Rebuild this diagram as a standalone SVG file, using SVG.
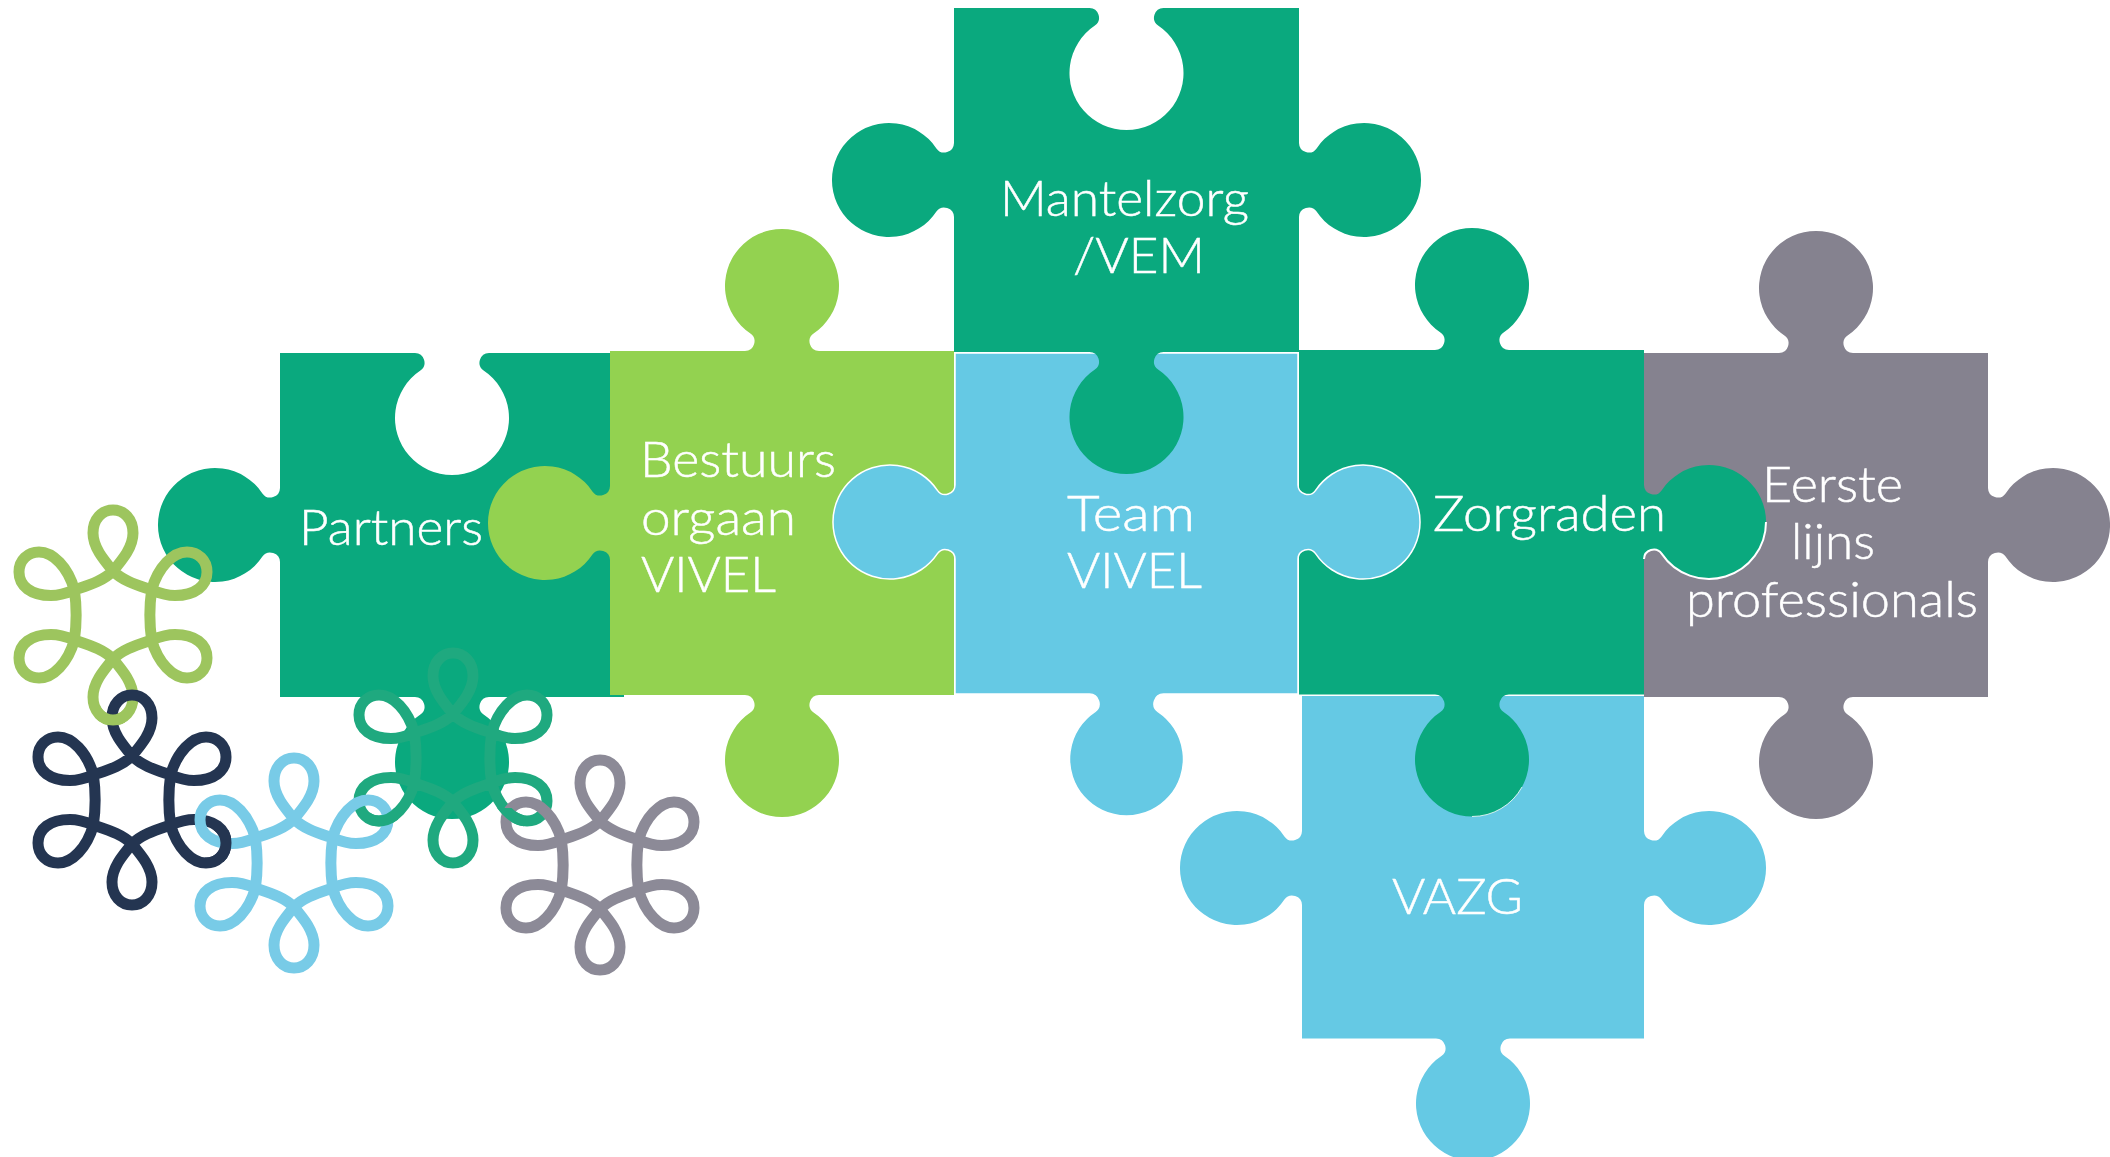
<svg xmlns="http://www.w3.org/2000/svg" xmlns:xlink="http://www.w3.org/1999/xlink" width="2110" height="1157" viewBox="0 0 2110 1157">
<style>
.t{font-family:"Lato","Open Sans","Liberation Sans",sans-serif;font-weight:300;font-size:50px;fill:#fff;stroke:#fff;stroke-width:.5}
.g{fill:#0aa97e}.l{fill:#93d250}.b{fill:#65c9e4}.y{fill:#85828f}
.rim{fill:none;stroke:#fff}
.f{fill:none;stroke-width:11;stroke-linejoin:round}
</style>
<defs>
<path id="fl" d="M0-44C10-56 20-68 20-82C20-96 11-105 0-105C-11-105-20-96-20-82C-20-68-10-56 0-44C10-34 24-30 38.6-25C46-22 52-19.500 62-19.500C82-19.500 94-29 94-43C94-55 85-63 74-63C60-63 45-48 38.6-25C36.500-10 36.500 10 38.6 25C45 48 60 63 74 63C85 63 94 55 94 43C94 29 82 19.500 62 19.500C52 19.500 46 22 38.6 25C24 30 10 34 0 44C-10 56-20 68-20 82C-20 96-11 105 0 105C11 105 20 96 20 82C20 68 10 56 0 44C-10 34-24 30-38.6 25C-46 22-52 19.500-62 19.500C-82 19.500-94 29-94 43C-94 55-85 63-74 63C-60 63-45 48-38.6 25C-36.500 10-36.500-10-38.6-25C-45-48-60-63-74-63C-85-63-94-55-94-43C-94-29-82-19.500-62-19.500C-52-19.500-46-22-38.6-25C-24-30-10-34 0-44Z"/>
<clipPath id="c1"><rect x="95" y="705" width="30" height="26"/></clipPath>
<clipPath id="c2"><rect x="205" y="830" width="36" height="32"/></clipPath>
<clipPath id="c3"><rect x="370" y="808" width="28" height="26"/></clipPath>
<clipPath id="c4"><rect x="494" y="808" width="30" height="24"/></clipPath>
</defs>
<g id="partners">
<path class="g" d="M280 353H415a9.700 9.700 0 0 1 5.400 17.600a57 57 0 1 0 63.200 0a9.700 9.700 0 0 1 5.400-17.600H624V697H489a9.700 9.700 0 0 0-5.400 17.600a57 57 0 1 1-63.200 0a9.700 9.700 0 0 0-5.400-17.600H280V562a9.700 9.700 0 0 0-17.600-5.400a57 57 0 1 1 0-63.200a9.700 9.700 0 0 0 17.600-5.400Z"/>
<text class="t" x="299" y="545" textLength="184" lengthAdjust="spacingAndGlyphs">Partners</text>
</g>
<g id="bestuursorgaan">
<path class="l" d="M610 351H745a9.700 9.700 0 0 0 5.400-17.600a57 57 0 1 1 63.200 0a9.700 9.700 0 0 0 5.400 17.600H954V695H819a9.700 9.700 0 0 0-5.400 17.600a57 57 0 1 1-63.200 0a9.700 9.700 0 0 0-5.400-17.600H610V560a9.700 9.700 0 0 0-17.600-5.400a57 57 0 1 1 0-63.200a9.700 9.700 0 0 0 17.600-5.400Z"/>
<text class="t" x="640" y="477" textLength="196" lengthAdjust="spacingAndGlyphs">Bestuurs</text>
<text class="t" x="641" y="535" textLength="155" lengthAdjust="spacingAndGlyphs">orgaan</text>
<text class="t" x="641" y="592" textLength="135" lengthAdjust="spacingAndGlyphs">VIVEL</text>
</g>
<g id="vazg">
<path class="b" d="M1302 696H1644V831a9.700 9.700 0 0 0 17.600 5.400a57 57 0 1 1 0 63.200a9.700 9.700 0 0 0-17.600 5.400V1038.500H1510a9.700 9.700 0 0 0-5.400 17.600a57 57 0 1 1-63.200 0a9.700 9.700 0 0 0-5.400-17.600H1302V905a9.700 9.700 0 0 0-17.600-5.400a57 57 0 1 1 0-63.200a9.700 9.700 0 0 0 17.600-5.400Z"/>
<text class="t" x="1392" y="914" textLength="131" lengthAdjust="spacingAndGlyphs">VAZG</text>
</g>
<g id="eerstelijns">
<path class="y" d="M1644 353H1779a9.700 9.700 0 0 0 5.400-17.600a57 57 0 1 1 63.200 0a9.700 9.700 0 0 0 5.400 17.600H1988V488a9.700 9.700 0 0 0 17.600 5.400a57 57 0 1 1 0 63.200a9.700 9.700 0 0 0-17.600 5.400V697H1853a9.700 9.700 0 0 0-5.400 17.600a57 57 0 1 1-63.200 0a9.700 9.700 0 0 0-5.400-17.600H1644Z"/>
<text class="t" x="1762" y="502" textLength="141" lengthAdjust="spacingAndGlyphs">Eerste</text>
<text class="t" x="1791" y="559" textLength="84" lengthAdjust="spacingAndGlyphs">lijns</text>
<text class="t" x="1686" y="617" textLength="292" lengthAdjust="spacingAndGlyphs">professionals</text>
</g>
<g id="zorgraden">
<path class="g" d="M1299 350H1435a9.700 9.700 0 0 0 5.400-17.600a57 57 0 1 1 63.200 0a9.700 9.700 0 0 0 5.400 17.600H1644V485a9.700 9.700 0 0 0 17.600 5.400a57 57 0 1 1 0 63.200a9.700 9.700 0 0 0-17.600 5.400V694.500H1509a9.700 9.700 0 0 0-5.400 17.600a57 57 0 1 1-63.200 0a9.700 9.700 0 0 0-5.400-17.600H1299Z"/>
<path class="rim" stroke-width="2" d="M1644 559a9.700 9.700 0 0 1 17.600-5.400A57 57 0 0 0 1766 522"/>
<path class="rim" stroke-width=".8" d="M1522 787A57 57 0 0 1 1472 816.500"/>
<text class="t" x="1433" y="531" textLength="233" lengthAdjust="spacingAndGlyphs">Zorgraden</text>
</g>
<g id="team">
<path class="b" stroke="#fff" stroke-width="1.500" d="M955 353H1298V485a9.700 9.700 0 0 0 17.600 5.400a57 57 0 1 1 0 63.200a9.700 9.700 0 0 0-17.600 5.400V694H1163.500a9.700 9.700 0 0 0-5.400 17.600a57 57 0 1 1-63.200 0a9.700 9.700 0 0 0-5.400-17.600H955V559a9.700 9.700 0 0 0-17.600-5.400a57 57 0 1 1 0-63.200a9.700 9.700 0 0 0 17.600-5.400Z"/>
<text class="t" x="1067" y="531" textLength="128" lengthAdjust="spacingAndGlyphs">Team</text>
<text class="t" x="1067" y="588" textLength="135" lengthAdjust="spacingAndGlyphs">VIVEL</text>
</g>
<g id="mantelzorg">
<path class="g" d="M954 8H1089.500a9.700 9.700 0 0 1 5.400 17.600a57 57 0 1 0 63.200 0a9.700 9.700 0 0 1 5.400-17.600H1299V143a9.700 9.700 0 0 0 17.600 5.400a57 57 0 1 1 0 63.200a9.700 9.700 0 0 0-17.600 5.400V352H1163.500a9.700 9.700 0 0 0-5.400 17.600a57 57 0 1 1-63.200 0a9.700 9.700 0 0 0-5.400-17.600H954V217a9.700 9.700 0 0 0-17.600-5.400a57 57 0 1 1 0-63.200a9.700 9.700 0 0 0 17.600-5.400Z"/>
<text class="t" x="1000" y="216" textLength="249" lengthAdjust="spacingAndGlyphs">Mantelzorg</text>
<text class="t" x="1073" y="273" textLength="132" lengthAdjust="spacingAndGlyphs">/VEM</text>
</g>
<g id="flowers">
<use xlink:href="#fl" href="#fl" class="f" stroke="#9dc55e" transform="translate(113 615)"/>
<use xlink:href="#fl" href="#fl" class="f" stroke="#243551" transform="translate(132 800)"/>
<g clip-path="url(#c1)"><use xlink:href="#fl" href="#fl" class="f" stroke="#9dc55e" transform="translate(113 615)"/></g>
<use xlink:href="#fl" href="#fl" class="f" stroke="#1fa97f" transform="translate(453 758)"/>
<use xlink:href="#fl" href="#fl" class="f" stroke="#78cbe7" transform="translate(294 863)"/>
<g clip-path="url(#c2)"><use xlink:href="#fl" href="#fl" class="f" stroke="#243551" transform="translate(132 800)"/></g>
<use xlink:href="#fl" href="#fl" class="f" stroke="#8c8a97" transform="translate(600 865)"/>
<g clip-path="url(#c3)"><use xlink:href="#fl" href="#fl" class="f" stroke="#1fa97f" transform="translate(453 758)"/></g>
<g clip-path="url(#c4)"><use xlink:href="#fl" href="#fl" class="f" stroke="#1fa97f" transform="translate(453 758)"/></g>
</g>
</svg>
